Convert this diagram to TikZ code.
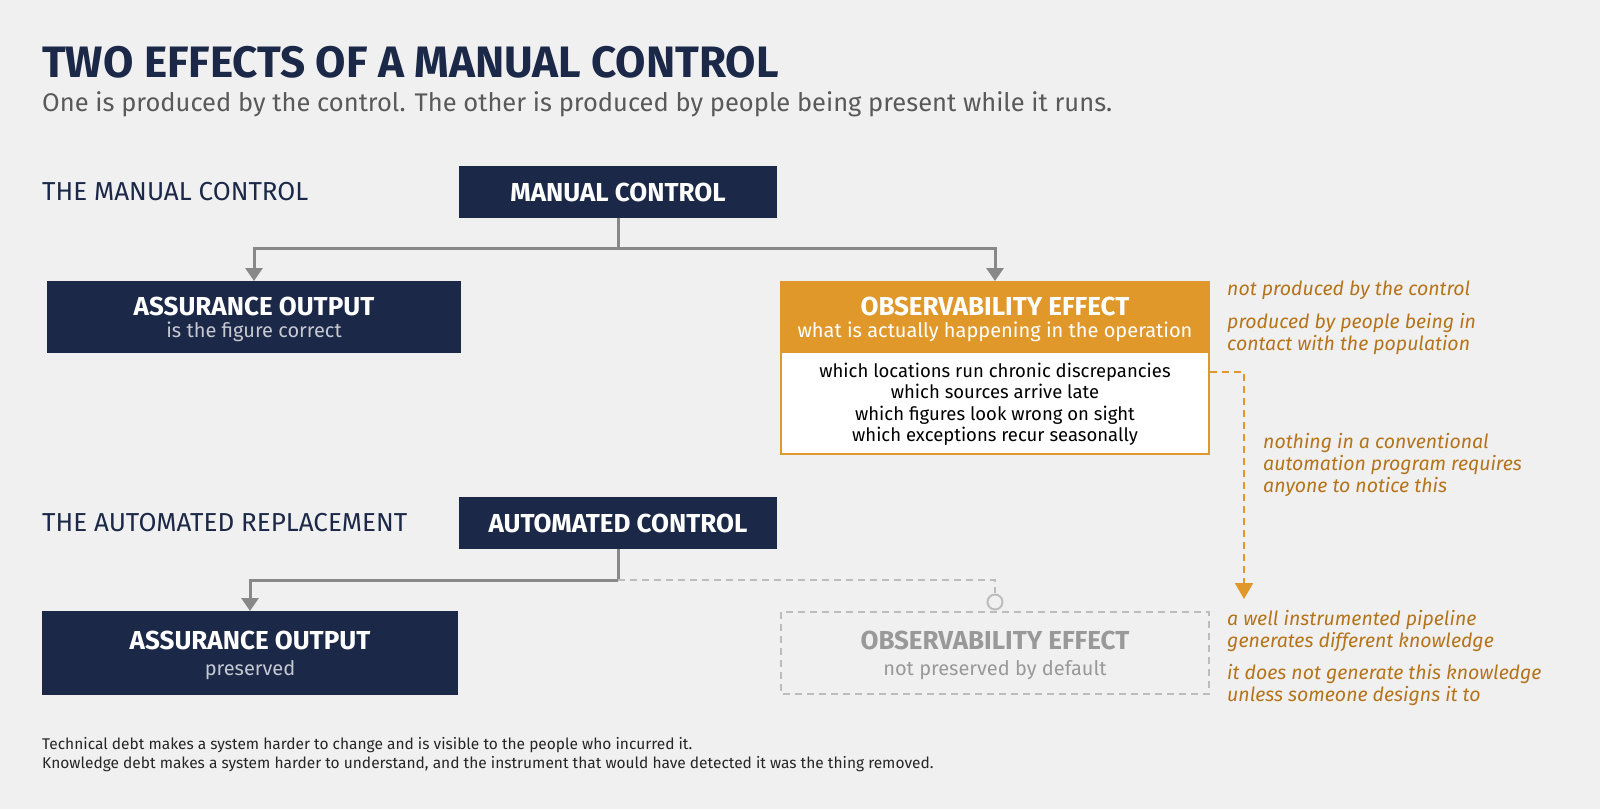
\documentclass[tikz,border=0pt]{standalone}
\usepackage{fontspec}
\setmainfont{Fira Sans}
\usetikzlibrary{arrows.meta}
\definecolor{navy}{HTML}{1B2848}
\definecolor{bg}{HTML}{F0F0F0}
\definecolor{org}{HTML}{E0982A}
\definecolor{note}{HTML}{B5741A}
\definecolor{conn}{HTML}{888888}
\definecolor{ghost}{HTML}{BDBDBD}
\begin{document}
\begin{tikzpicture}[x=1pt,y=-1pt,
  btitle/.style={text=white,font=\fontsize{26}{28}\selectfont\bfseries,anchor=center},
  bsub/.style={text=white!75!navy,font=\fontsize{20}{22}\selectfont,anchor=center},
  lbl/.style={text=navy,font=\fontsize{26}{28}\selectfont,anchor=west},
  nt/.style={text=note,font=\fontsize{19.5}{22}\selectfont\itshape,anchor=north west,align=left,inner sep=0},
  cn/.style={draw=conn,line width=3pt},
  arr/.style={-{Triangle[length=13pt,width=17pt]}}]
\fill[bg] (0,0) rectangle (1600,809);
\useasboundingbox (0,0) rectangle (1600,809);
\node[anchor=base west,text=navy,font=\fontsize{44}{46}\selectfont\bfseries,inner sep=0] (title) at (42,77) {TWO EFFECTS OF A MANUAL CONTROL};
\node[anchor=base west,text=black!65,font=\fontsize{25.5}{27}\selectfont,inner sep=0] (sub) at (42,111) {One is produced by the control. The other is produced by people being present while it runs.};
\node[lbl,inner sep=0] (l1) at (42,192) {THE MANUAL CONTROL};
\node[lbl,inner sep=0] (l2) at (42,523) {THE AUTOMATED REPLACEMENT};
% manual control
\fill[navy] (459,166) rectangle (777,218);
\node[btitle] (mc) at (618,192) {MANUAL CONTROL};
\coordinate (mcb) at (618,218);
% assurance 1
\fill[navy] (47,281) rectangle (461,353);
\node[btitle] (a1) at (254,306) {ASSURANCE OUTPUT};
\node[bsub] (a1s) at (254,332) {is the figure correct};
\coordinate (a1t) at (254,281);
% observability
\fill[org] (780,281) rectangle (1210,353);
\fill[white] (780,353) rectangle (1210,455);
\draw[org,line width=2pt] (781,282) rectangle (1209,454);
\node[btitle] (o1) at (995,306) {OBSERVABILITY EFFECT};
\node[text=white,font=\fontsize{20}{22}\selectfont] (o1s) at (995,332) {what is actually happening in the operation};
\node[align=center,font=\fontsize{18.5}{21.5}\selectfont,text=black] (o1l) at (995,404) {which locations run chronic discrepancies\\which sources arrive late\\which figures look wrong on sight\\which exceptions recur seasonally};
\coordinate (o1t) at (995,281);
\coordinate (o1r) at (1210,372);
\draw[cn] (mcb) -- (618,248) coordinate (j1);
\draw[cn,arr] (j1) -| (a1t);
\draw[cn,arr] (j1) -| (o1t);
% notes
\node[nt] (n1) at (1227,281) {not produced by the control};
\node[nt] (n2) at (1227,313) {produced by people being in\\contact with the population};
\node[nt] (n3) at (1263,433) {nothing in a conventional\\automation program requires\\anyone to notice this};
\node[nt] (n4) at (1227,610) {a well instrumented pipeline\\generates different knowledge};
\node[nt] (n5) at (1227,664) {it does not generate this knowledge\\unless someone designs it to};
\coordinate (ad) at (1244,599);
\draw[org,line width=2pt,dash pattern=on 7pt off 5pt] (o1r) -| (1244,585);
\draw[org,line width=2pt,-{Triangle[length=16pt,width=18pt]}] (1244,584) -- (ad);
% automated
\fill[navy] (459,497) rectangle (777,549);
\node[btitle] (ac) at (618,523) {AUTOMATED CONTROL};
\coordinate (acb) at (618,549);
\fill[navy] (42,611) rectangle (458,695);
\node[btitle] (a2) at (250,640) {ASSURANCE OUTPUT};
\node[bsub] (a2s) at (250,670) {preserved};
\coordinate (a2t) at (250,611);
\draw[ghost,line width=1.6pt,dash pattern=on 7pt off 5pt] (781,612) rectangle (1209,694);
\node[text=black!40,font=\fontsize{26}{28}\selectfont\bfseries] (o2) at (995,640) {OBSERVABILITY EFFECT};
\node[text=black!40,font=\fontsize{20}{22}\selectfont] (o2s) at (995,670) {not preserved by default};
\draw[cn] (acb) -- (618,580) coordinate (j2);
\draw[cn,arr] (j2) -| (a2t);
\draw[ghost,line width=2pt,dash pattern=on 7pt off 5pt] (j2) -- (995,580) -- (995,593);
\node[circle,draw=ghost,line width=2pt,minimum size=15pt,inner sep=0,fill=bg] (circ) at (995,602) {};
% footer
\node[anchor=base west,inner sep=0,font=\fontsize{15.5}{17}\selectfont,text=black!85] (f1) at (42,749) {Technical debt makes a system harder to change and is visible to the people who incurred it.};
\node[anchor=base west,inner sep=0,font=\fontsize{15.5}{17}\selectfont,text=black!85] (f2) at (42,768) {Knowledge debt makes a system harder to understand, and the instrument that would have detected it was the thing removed.};
\end{tikzpicture}
\end{document}
